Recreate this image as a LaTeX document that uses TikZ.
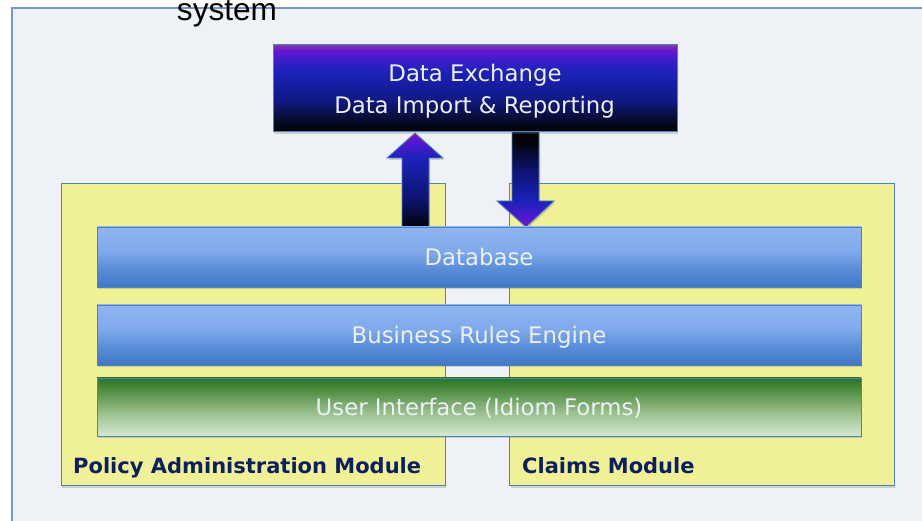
\documentclass[tikz,border=0pt]{standalone}
\usepackage{fontspec}
\setmainfont{DejaVu Sans}
\newfontfamily\arialfont{Liberation Sans}
\usetikzlibrary{shadows}
\definecolor{outerbg}{HTML}{EEF1F5}
\definecolor{outerline}{HTML}{7199CC}
\definecolor{boxline}{HTML}{4F81BD}
\definecolor{yellowfill}{HTML}{F0F197}
\definecolor{navytext}{HTML}{0C1F5E}
\definecolor{lighttext}{HTML}{ECF0F8}
\definecolor{dxtop}{HTML}{7E3AA6}
\definecolor{dxpurple}{HTML}{6A14D2}
\definecolor{dxviolet}{HTML}{3A1ECA}
\definecolor{dxblue}{HTML}{1C22B8}
\definecolor{dxnavy}{HTML}{101985}
\definecolor{dxdark}{HTML}{050818}
\definecolor{dxblack}{HTML}{010205}
\definecolor{arpurple}{HTML}{7A12C8}
\definecolor{arviolet}{HTML}{4A1ACC}
\definecolor{arblue}{HTML}{1C22BA}
\definecolor{arnavy}{HTML}{0E1470}
\definecolor{arblack}{HTML}{020308}
\definecolor{bbA}{HTML}{3E78C6}
\definecolor{bbB}{HTML}{5A8DD8}
\definecolor{bbC}{HTML}{80AAEC}
\definecolor{bbD}{HTML}{8FB6F2}
\definecolor{bgA}{HTML}{D6E8D3}
\definecolor{bgB}{HTML}{9CC08E}
\definecolor{bgC}{HTML}{5A944C}
\definecolor{bgD}{HTML}{2A7626}
\pgfdeclareverticalshading{dxshade}{100bp}{color(0bp)=(dxblack); color(25bp)=(dxblack); color(29bp)=(dxdark); color(43.5bp)=(dxnavy); color(59.5bp)=(dxblue); color(66.4bp)=(dxviolet); color(72bp)=(dxpurple); color(75bp)=(dxtop); color(100bp)=(dxtop)}
\pgfdeclareverticalshading{upshade}{100bp}{color(0bp)=(arblack); color(25bp)=(arblack); color(40bp)=(arnavy); color(61.7bp)=(arblue); color(69bp)=(arviolet); color(75bp)=(arpurple); color(100bp)=(arpurple)}
\pgfdeclareverticalshading{downshade}{100bp}{color(0bp)=(arpurple); color(25bp)=(arpurple); color(31bp)=(arviolet); color(38.5bp)=(arblue); color(55bp)=(arnavy); color(70bp)=(arblack); color(100bp)=(arblack)}
\pgfdeclareverticalshading{barblue}{100bp}{color(0bp)=(bbA); color(25bp)=(bbA); color(40bp)=(bbB); color(55bp)=(bbC); color(75bp)=(bbD); color(100bp)=(bbD)}
\pgfdeclareverticalshading{bargreen}{100bp}{color(0bp)=(bgA); color(25bp)=(bgA); color(45bp)=(bgB); color(62bp)=(bgC); color(75bp)=(bgD); color(100bp)=(bgD)}
\tikzset{
  softshadow/.style={drop shadow={opacity=0.25, shadow xshift=1pt, shadow yshift=-2pt, fill=black!60}},
  modulebox/.style={draw=boxline, line width=1pt, fill=yellowfill, softshadow, minimum width=384pt, minimum height=302.5pt, inner sep=0pt},
  barbox/.style={draw=boxline, line width=0.8pt, shade, softshadow, minimum width=764pt, inner sep=0pt, text height=16.6pt, text depth=0pt, text=lighttext, font=\fontsize{22.8}{27}\selectfont},
  dxtext/.style={text=lighttext, inner sep=0pt, anchor=base, font=\fontsize{22.8}{27}\selectfont},
  modlabel/.style={text=navytext, inner sep=0pt, anchor=base west, font=\bfseries\fontsize{21}{25}\selectfont},
  blockarrow/.style={draw=boxline, line width=0.8pt, softshadow}
}
\begin{document}
\begin{tikzpicture}[x=1pt, y=-1pt]
\useasboundingbox (0,0) rectangle (922,521);
\fill[white] (0,0) rectangle (922,521);
% outer system box
\node[draw=outerline, line width=1.2pt, fill=outerbg, minimum width=918pt, minimum height=522pt, inner sep=0pt] (sys) at (471,269) {};
\node[inner sep=0pt, anchor=base, font=\arialfont\fontsize{31.6}{36}\selectfont] (systitle) at (227,20.5) {system};
% module boxes
\node[modulebox] (pam) at (253,334.75) {};
\node[modulebox, minimum width=384.5pt] (cm) at (701.75,334.75) {};
% block arrows
\path[blockarrow, shading=upshade] (415,133) -- (443,158) -- (429,158) -- (429,227) -- (402,227) -- (402,158) -- (387,158) -- cycle;
\path[blockarrow, shading=downshade] (512,132) -- (539,132) -- (539,201) -- (554,201) -- (526,227) -- (497,201) -- (512,201) -- cycle;
% layer bars
\node[barbox, shading=barblue, minimum height=60pt] (db) at (479,257) {Database};
\node[barbox, shading=barblue, minimum height=60pt] (bre) at (479,335) {Business Rules Engine};
\node[barbox, shading=bargreen, minimum height=58pt] (ui) at (479,407) {User Interface (Idiom Forms)};
% data exchange box
\node[draw=boxline, line width=1pt, shade, shading=dxshade, softshadow, minimum width=404pt, minimum height=87pt, inner sep=0pt] (dx) at (475,88.5) {};
\node[dxtext] (dx1) at (475,81.7) {Data Exchange};
\node[dxtext] (dx2) at (474.5,114) {Data Import \& Reporting};
% module labels
\node[modlabel] (pamlabel) at (73,473.5) {Policy Administration Module};
\node[modlabel] (cmlabel) at (522,473.5) {Claims Module};
\end{tikzpicture}
\end{document}
